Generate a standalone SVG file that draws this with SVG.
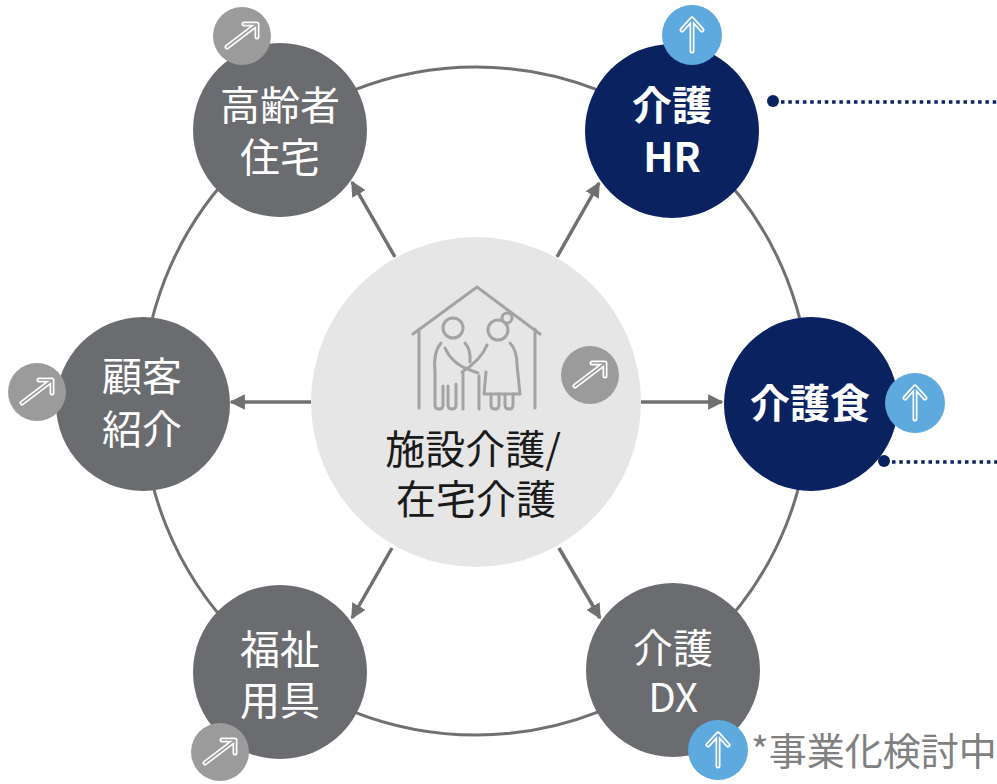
<svg xmlns="http://www.w3.org/2000/svg" width="997" height="784" viewBox="0 0 997 784">
  <defs>
    <style>
      .ring { fill: none; stroke: #707070; stroke-width: 3; }
      .link { fill: none; stroke: #707070; stroke-width: 3.5; }
      .gray { fill: #6b6c70; }
      .navy { fill: #0b2260; }
      .lbl { font-family: "Noto Sans CJK JP", "Noto Sans", sans-serif; font-size: 40px; fill: #ffffff; text-anchor: middle; }
      .bold { font-weight: 700; }
      .ctr { font-family: "Noto Sans CJK JP", "Noto Sans", sans-serif; font-size: 40px; fill: #1a1a1a; text-anchor: middle; }
      .note { font-family: "Noto Sans CJK JP", "Noto Sans", sans-serif; font-size: 38px; fill: #808080; }
      .icon { fill: none; stroke: #a3a3a3; stroke-width: 3; stroke-linecap: round; stroke-linejoin: round; }
      .bg-gray { fill: #9b9b9b; }
      .bg-blue { fill: #5ea9dd; }
      .arw-o { fill: none; stroke: #ffffff; stroke-width: 5; stroke-linecap: round; stroke-linejoin: round; }
      .arw-i-g { fill: none; stroke: #9b9b9b; stroke-width: 1.6; stroke-linecap: round; stroke-linejoin: round; }
      .arw-i-b { fill: none; stroke: #5ea9dd; stroke-width: 1.6; stroke-linecap: round; stroke-linejoin: round; }
      .dots { fill: none; stroke: #0b2260; stroke-width: 3.5; stroke-dasharray: 3.5 3.8; }
    </style>
    <marker id="head" viewBox="0 0 10 10" refX="9" refY="5" markerWidth="4.4" markerHeight="4.4" orient="auto" markerUnits="strokeWidth">
      <path d="M0,0 L10,5 L0,10 Z" fill="#707070"/>
    </marker>
    <!-- diagonal "rising" arrow, centred on 0,0 -->
    <g id="diag">
      <path d="M-15,11 L14,-11 M2,-12 L15,-12 L15,1"/>
    </g>
    <!-- vertical "up" arrow, centred on 0,0 -->
    <g id="up">
      <path d="M0,16 L0,-15 M-10,-5 L0,-16 L10,-5"/>
    </g>
  </defs>

  <!-- outer cycle ring -->
  <circle class="ring" cx="476" cy="401" r="334"/>

  <!-- hub -->
  <g id="hub">
    <circle cx="476" cy="402" r="165" fill="#e6e6e6"/>
    <g class="icon">
      <path d="M413,334 L477,287 L540,334"/>
      <path d="M419,329 L419,408 M535,329 L535,408"/>
      <!-- man -->
      <circle cx="453" cy="328" r="10"/>
      <path d="M441,343 Q433,352 435,372 L435,405 Q435,409 439,409 Q443,409 443,405 L443,386"/>
      <path d="M448,386 L448,405 Q448,409 452,409 Q456,409 456,405 L456,384"/>
      <path d="M445,348 Q452,364 470,370 L478,373"/>
      <path d="M465,343 Q471,350 470,362"/>
      <path d="M463,373 L463,409"/>
      <!-- woman -->
      <circle cx="498" cy="330" r="10"/>
      <circle cx="507" cy="318" r="5"/>
      <path d="M510,343 Q517,350 517,365 L520,394 L484,394 L486,372"/>
      <path d="M487,345 Q481,360 462,372"/>
      <path d="M491,394 L491,405 Q491,409 495,409 Q499,409 499,405 L499,394"/>
      <path d="M505,394 L505,405 Q505,409 509,409 Q513,409 513,405 L513,394"/>
      <path d="M479,376 L479,409"/>
    </g>
    <text class="ctr" x="473" y="464">施設介護/</text>
    <text class="ctr" x="476" y="514">在宅介護</text>
  </g>

  <!-- connectors -->
  <g id="connectors">
    <line class="link" x1="311" y1="402" x2="231" y2="402" marker-end="url(#head)"/>
    <line class="link" x1="641" y1="402" x2="722" y2="402" marker-end="url(#head)"/>
    <line class="link" x1="395" y1="257" x2="352" y2="182" marker-end="url(#head)"/>
    <line class="link" x1="557" y1="257" x2="599" y2="183" marker-end="url(#head)"/>
    <line class="link" x1="392" y1="548" x2="352" y2="618" marker-end="url(#head)"/>
    <line class="link" x1="559" y1="548" x2="600" y2="618" marker-end="url(#head)"/>
    <circle cx="773" cy="101" r="6" fill="#0b2260"/>
    <line class="dots" x1="781" y1="102" x2="997" y2="102"/>
    <circle cx="884" cy="461" r="6" fill="#0b2260"/>
    <line class="dots" x1="892" y1="462" x2="997" y2="462"/>
  </g>

  <!-- satellite nodes -->
  <g id="housing">
    <circle class="gray" cx="280" cy="130" r="87"/>
    <text class="lbl" x="280" y="120">高齢者</text>
    <text class="lbl" x="280" y="172">住宅</text>
  </g>
  <g id="care-hr">
    <circle class="navy" cx="672" cy="131" r="87"/>
    <text class="lbl bold" x="672" y="120">介護</text>
    <text class="lbl bold" x="672" y="172">HR</text>
  </g>
  <g id="care-food">
    <circle class="navy" cx="811" cy="404" r="87"/>
    <text class="lbl bold" x="810" y="418">介護食</text>
  </g>
  <g id="care-dx">
    <circle class="gray" cx="673" cy="670" r="87"/>
    <text class="lbl" x="673" y="663">介護</text>
    <text class="lbl" x="673" y="712">DX</text>
  </g>
  <g id="welfare">
    <circle class="gray" cx="280" cy="672" r="87"/>
    <text class="lbl" x="280" y="664">福祉</text>
    <text class="lbl" x="280" y="715">用具</text>
  </g>
  <g id="referral">
    <circle class="gray" cx="143" cy="404" r="87"/>
    <text class="lbl" x="142" y="391">顧客</text>
    <text class="lbl" x="142" y="444">紹介</text>
  </g>

  <!-- trend badges -->
  <g id="badge-housing" transform="translate(242,36)">
    <circle class="bg-gray" r="29"/>
    <use href="#diag" class="arw-o"/><use href="#diag" class="arw-i-g"/>
  </g>
  <g id="badge-referral" transform="translate(37,392)">
    <circle class="bg-gray" r="29"/>
    <use href="#diag" class="arw-o"/><use href="#diag" class="arw-i-g"/>
  </g>
  <g id="badge-hub" transform="translate(590,375)">
    <circle class="bg-gray" r="29"/>
    <use href="#diag" class="arw-o"/><use href="#diag" class="arw-i-g"/>
  </g>
  <g id="badge-welfare" transform="translate(220,752)">
    <circle class="bg-gray" r="29"/>
    <use href="#diag" class="arw-o"/><use href="#diag" class="arw-i-g"/>
  </g>
  <g id="badge-hr" transform="translate(692,35)">
    <circle class="bg-blue" r="30"/>
    <use href="#up" class="arw-o"/><use href="#up" class="arw-i-b"/>
  </g>
  <g id="badge-food" transform="translate(915,403)">
    <circle class="bg-blue" r="30"/>
    <use href="#up" class="arw-o"/><use href="#up" class="arw-i-b"/>
  </g>
  <g id="badge-dx" transform="translate(718,750)">
    <circle class="bg-blue" r="30"/>
    <use href="#up" class="arw-o"/><use href="#up" class="arw-i-b"/>
  </g>

  <text class="note" x="751" y="765">*事業化検討中</text>
</svg>
